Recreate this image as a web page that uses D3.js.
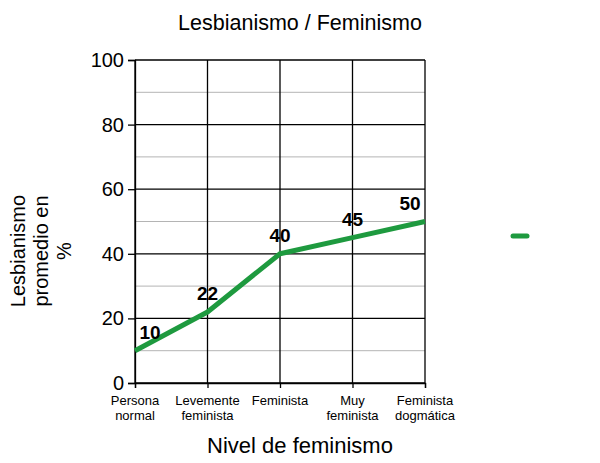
<!DOCTYPE html>
<html>
<head>
<meta charset="utf-8">
<script src="https://cdn.jsdelivr.net/npm/d3@7"></script>
<style>
  body { margin: 0; background: #fff; }
  text { font-family: "Liberation Sans", Arial, sans-serif; }
</style>
</head>
<body>
<div id="chart"></div>
<script>
// data
var categories = [["Persona", "normal"], ["Levemente", "feminista"], ["Feminista"], ["Muy", "feminista"], ["Feminista", "dogmática"]];
var values = [10, 22, 40, 45, 50];
var yTicks = [0, 20, 40, 60, 80, 100];
var yMinor = [10, 30, 50, 70, 90];

var chart = { width: 600, height: 463, left: 135, right: 425, top: 60, bottom: 383 };
var green = "#1e9a3f";

var svg = d3.select("#chart").append("svg")
    .attr("width", chart.width)
    .attr("height", chart.height);

var x = d3.scalePoint()
    .domain(d3.range(categories.length))
    .range([chart.left, chart.right]);

var y = d3.scaleLinear()
    .domain([0, 100])
    .range([chart.bottom, chart.top]);

// minor gridlines
svg.append("g").selectAll("line")
    .data(yMinor)
  .enter().append("line")
    .attr("x1", chart.left).attr("x2", chart.right)
    .attr("y1", function(d) { return y(d); })
    .attr("y2", function(d) { return y(d); })
    .attr("stroke", "#b4b4b4")
    .attr("stroke-width", 1);

// major gridlines
svg.append("g").selectAll("line")
    .data(yTicks)
  .enter().append("line")
    .attr("x1", chart.left).attr("x2", chart.right)
    .attr("y1", function(d) { return y(d); })
    .attr("y2", function(d) { return y(d); })
    .attr("stroke", "#000")
    .attr("stroke-width", 1.3);

svg.append("g").selectAll("line")
    .data(d3.range(categories.length))
  .enter().append("line")
    .attr("x1", function(d) { return x(d); })
    .attr("x2", function(d) { return x(d); })
    .attr("y1", chart.top).attr("y2", chart.bottom)
    .attr("stroke", "#000")
    .attr("stroke-width", 1.3);

// y axis
var yAxis = svg.append("g")
    .attr("transform", "translate(" + chart.left + ",0)")
    .call(d3.axisLeft(y).tickValues(yTicks).tickSize(7).tickPadding(4));
yAxis.select(".domain").attr("stroke-width", 1.3);
yAxis.selectAll(".tick line").attr("stroke-width", 1.3);
yAxis.selectAll("text")
    .style("font-size", "20px")
    .attr("fill", "#000")
    .attr("font-family", null);

// x axis
var xAxis = svg.append("g")
    .attr("transform", "translate(0," + chart.bottom + ")")
    .call(d3.axisBottom(x).tickSize(5).tickFormat(""));
xAxis.select(".domain").attr("stroke-width", 1.3);
xAxis.selectAll(".tick line").attr("stroke-width", 1.3);

var xlab = svg.append("g").selectAll("text")
    .data(categories)
  .enter().append("text")
    .attr("text-anchor", "middle")
    .attr("y", chart.bottom + 22)
    .style("font-size", "13px");
xlab.selectAll("tspan")
    .data(function(d, i) { return d.map(function(t) { return { t: t, i: i }; }); })
  .enter().append("tspan")
    .attr("x", function(d) { return x(d.i); })
    .attr("dy", function(d, j) { return j ? 15 : 0; })
    .text(function(d) { return d.t; });

// line
var line = d3.line()
    .x(function(d, i) { return x(i); })
    .y(function(d) { return y(d); });

svg.append("path")
    .datum(values)
    .attr("d", line)
    .attr("fill", "none")
    .attr("stroke", green)
    .attr("stroke-width", 5)
    .attr("stroke-linejoin", "round");

// value labels
svg.append("g").selectAll("text")
    .data(values)
  .enter().append("text")
    .attr("text-anchor", "middle")
    .attr("x", function(d, i) {
        var dx = i === 0 ? 15 : (i === values.length - 1 ? -15 : 0);
        return x(i) + dx;
    })
    .attr("y", function(d) { return y(d) - 12; })
    .style("font-size", "19px")
    .style("font-weight", "bold")
    .text(function(d) { return d; });

// titles
svg.append("text")
    .attr("x", 300).attr("y", 30)
    .attr("text-anchor", "middle")
    .style("font-size", "21.5px")
    .text("Lesbianismo / Feminismo");

svg.append("text")
    .attr("x", 300).attr("y", 453)
    .attr("text-anchor", "middle")
    .style("font-size", "22px")
    .text("Nivel de feminismo");

var ytitle = svg.append("text")
    .attr("transform", "translate(25,251) rotate(-90)")
    .attr("text-anchor", "middle")
    .style("font-size", "20px");
ytitle.selectAll("tspan")
    .data(["Lesbianismo", "promedio en", "%"])
  .enter().append("tspan")
    .attr("x", 0)
    .attr("dy", function(d, i) { return i ? 23 : 0; })
    .text(function(d) { return d; });

// legend
svg.append("line")
    .attr("x1", 513).attr("x2", 527)
    .attr("y1", 236).attr("y2", 236)
    .attr("stroke", green)
    .attr("stroke-width", 5)
    .attr("stroke-linecap", "round");
</script>
</body>
</html>
